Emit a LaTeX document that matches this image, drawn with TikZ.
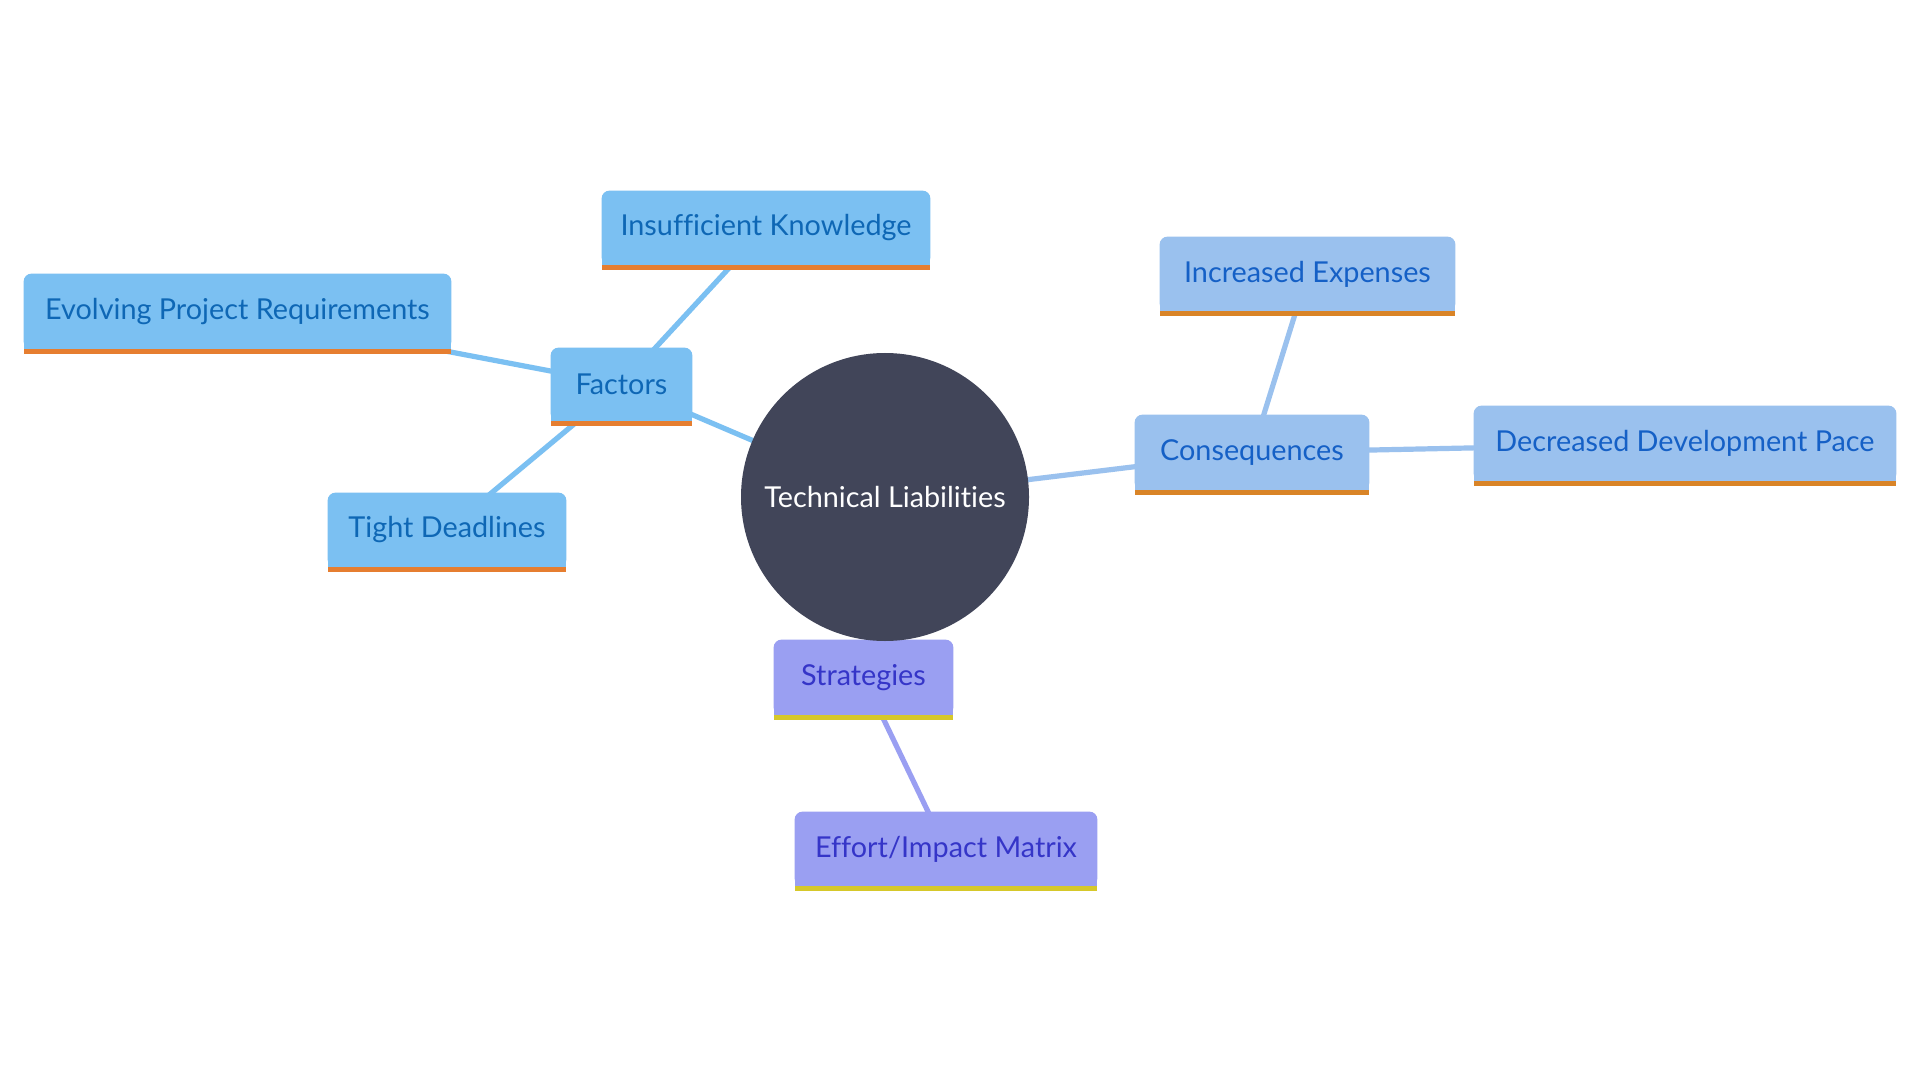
\documentclass[tikz,border=0pt]{standalone}
\usepackage{fontspec}
\setmainfont{Lato}[RawFeature={-liga;-dlig;-clig}]
\usetikzlibrary{backgrounds}
\pgfdeclarelayer{edges}
\pgfsetlayers{edges,background,main}
\definecolor{ffill}{HTML}{7BC0F2}
\definecolor{ftext}{HTML}{0E67B5}
\definecolor{fband}{HTML}{E67E30}
\definecolor{cfill}{HTML}{9AC1EE}
\definecolor{ctext}{HTML}{1560C6}
\definecolor{cband}{HTML}{D98427}
\definecolor{sfill}{HTML}{9A9FF2}
\definecolor{stext}{HTML}{3535C8}
\definecolor{sband}{HTML}{D6C82A}
\definecolor{core}{HTML}{414559}
\newcommand\tbox[7]{%
  \node[inner sep=0pt, text=#6text, font=\fontsize{14.4pt}{17pt}\selectfont,
        minimum width={(#4-#2)*0.5pt}, minimum height={(#5-#3-5)*0.5pt}]
        (#1) at ({(#2+#4)/2},{(#3+#5-5)/2}) {#7};
  \begin{scope}[on background layer]
    \fill[#6fill, rounded corners=4pt] (#1.north west) rectangle (#1.south east);
    \fill[#6fill] (#1.west) rectangle (#1.south east);
    \fill[#6band] (#1.south west) rectangle ([yshift=-2.5pt]#1.south east);
  \end{scope}}
\tikzset{
  fline/.style={draw=ffill, line width=2.6pt},
  cline/.style={draw=cfill, line width=2.6pt},
  sline/.style={draw=sfill, line width=2.6pt},
}
\begin{document}
\begin{tikzpicture}[x=0.5pt,y=-0.5pt]
\useasboundingbox (0,0) rectangle (1920,1080);
\node[circle, fill=core, minimum size=144pt, inner sep=0pt, text=white,
      font=\fontsize{14.4pt}{17pt}\selectfont] (cen) at (885,497) {Technical Liabilities};
\tbox{fac}{551}{348}{692}{426}{f}{Factors}
\tbox{ins}{602}{191}{930}{270}{f}{Insufficient Knowledge}
\tbox{evo}{24}{274}{451}{354}{f}{Evolving Project Requirements}
\tbox{tig}{328}{493}{566}{572}{f}{Tight Deadlines}
\tbox{con}{1135}{415}{1369}{495}{c}{Consequences}
\tbox{inc}{1160}{237}{1455}{316}{c}{Increased Expenses}
\tbox{dec}{1474}{406}{1896}{486}{c}{Decreased Development Pace}
\tbox{str}{774}{640}{953}{720}{s}{Strategies}
\tbox{eff}{795}{812}{1097}{891}{s}{Effort/Impact Matrix}
\begin{pgfonlayer}{edges}
\fill[white] (0,0) rectangle (1920,1080);
\draw[fline] (cen.center) -- (fac.center);
\draw[fline] (fac.center) -- (ins.center);
\draw[fline] (fac.center) -- (evo.center);
\draw[fline] (fac.center) -- (tig.center);
\draw[cline] (cen.center) -- (con.center);
\draw[cline] (con.center) -- (inc.center);
\draw[cline] (con.center) -- (dec.center);
\draw[sline] (cen.center) -- (str.center);
\draw[sline] (str.center) -- (eff.center);
\end{pgfonlayer}
\end{tikzpicture}
\end{document}
